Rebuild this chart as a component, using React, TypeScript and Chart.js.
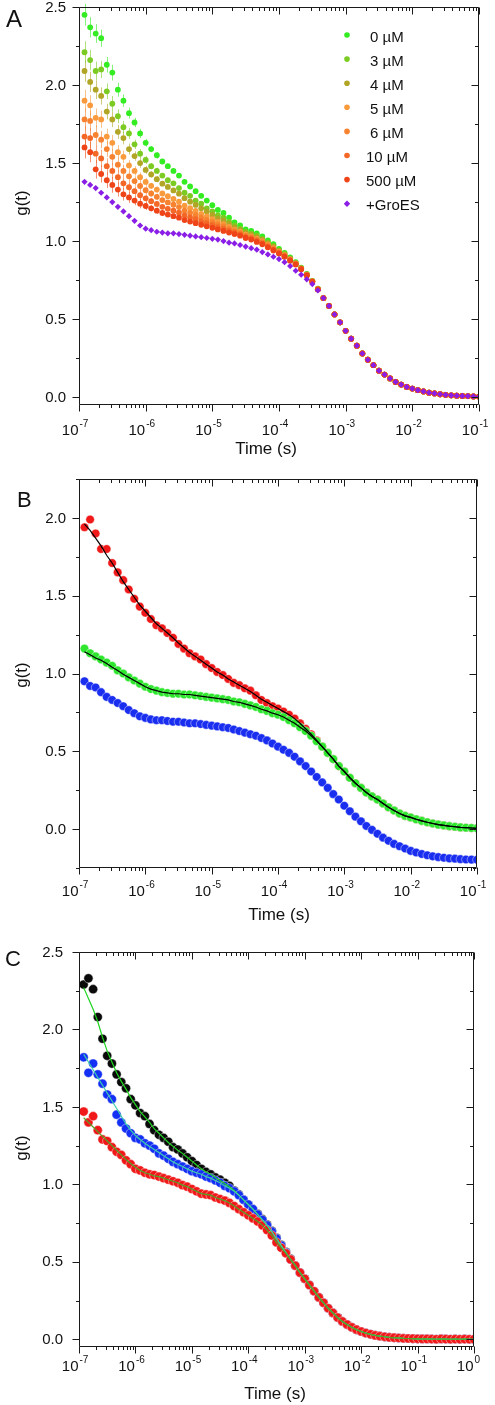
import React, { useEffect, useRef } from 'react';
import { Chart, registerables } from 'chart.js';

Chart.register(...registerables);

const FONT = '"Liberation Sans", Arial, Helvetica, sans-serif';

// ---------- lag-time grid (s) ----------
const TIMES = [
  1.21e-7, 1.47e-7, 1.78e-7, 2.15e-7, 2.61e-7, 3.16e-7, 3.83e-7, 4.64e-7, 5.62e-7, 6.81e-7, 8.25e-7,
  1e-6, 1.21e-6, 1.47e-6, 1.78e-6, 2.15e-6, 2.61e-6, 3.16e-6, 3.83e-6, 4.64e-6, 5.62e-6, 6.81e-6, 8.25e-6,
  1e-5, 1.21e-5, 1.47e-5, 1.78e-5, 2.15e-5, 2.61e-5, 3.16e-5, 3.83e-5, 4.64e-5, 5.62e-5, 6.81e-5, 8.25e-5,
  1e-4, 1.21e-4, 1.47e-4, 1.78e-4, 2.15e-4, 2.61e-4, 3.16e-4, 3.83e-4, 4.64e-4, 5.62e-4, 6.81e-4, 8.25e-4,
  1e-3, 1.21e-3, 1.47e-3, 1.78e-3, 2.15e-3, 2.61e-3, 3.16e-3, 3.83e-3, 4.64e-3, 5.62e-3, 6.81e-3, 8.25e-3,
  1e-2, 1.21e-2, 1.47e-2, 1.78e-2, 2.15e-2, 2.61e-2, 3.16e-2, 3.83e-2, 4.64e-2, 5.62e-2, 6.81e-2, 8.25e-2,
  1e-1,
];
const TIMES_C = TIMES.concat([1.21e-1, 1.47e-1, 1.78e-1, 2.15e-1, 2.61e-1, 3.16e-1, 3.83e-1, 4.64e-1, 5.62e-1, 6.81e-1, 8.25e-1, 1]);

// ---------- Panel A ----------
const A_TAIL = [0.635, 0.585, 0.53, 0.48, 0.425, 0.375, 0.33, 0.28, 0.24, 0.205, 0.17, 0.145, 0.12, 0.098, 0.081, 0.066, 0.055, 0.045, 0.037, 0.029, 0.024, 0.019, 0.015, 0.012, 0.01, 0.008, 0.007, 0.005, 0.004];
const A_0UM = [2.45, 2.37, 2.33, 2.30, 2.13, 2.08, 1.97, 1.90, 1.82, 1.76, 1.69, 1.63, 1.59, 1.55, 1.51, 1.48, 1.45, 1.42, 1.38, 1.35, 1.32, 1.29, 1.26, 1.23, 1.20, 1.18, 1.15, 1.12, 1.10, 1.075, 1.065, 1.05, 1.03, 1.005, 0.98, 0.95, 0.925, 0.895, 0.865, 0.83, 0.79, 0.745, 0.695].concat(A_TAIL);
const A_3UM = [2.21, 2.16, 2.09, 2.10, 1.96, 1.88, 1.80, 1.73, 1.69, 1.62, 1.56, 1.52, 1.48, 1.45, 1.42, 1.39, 1.37, 1.34, 1.31, 1.29, 1.26, 1.24, 1.21, 1.19, 1.165, 1.15, 1.125, 1.10, 1.08, 1.06, 1.05, 1.035, 1.015, 0.99, 0.97, 0.94, 0.92, 0.89, 0.86, 0.827, 0.787, 0.743, 0.694].concat(A_TAIL);
const A_4UM = [2.09, 2.02, 1.97, 1.93, 1.83, 1.78, 1.70, 1.66, 1.59, 1.545, 1.50, 1.456, 1.427, 1.397, 1.368, 1.347, 1.325, 1.304, 1.275, 1.253, 1.232, 1.21, 1.189, 1.168, 1.146, 1.131, 1.109, 1.088, 1.072, 1.051, 1.041, 1.026, 1.009, 0.986, 0.963, 0.937, 0.914, 0.886, 0.859, 0.826, 0.786, 0.743, 0.693].concat(A_TAIL);
const A_5UM = [1.90, 1.87, 1.79, 1.78, 1.67, 1.63, 1.57, 1.54, 1.485, 1.45, 1.41, 1.379, 1.354, 1.33, 1.305, 1.288, 1.27, 1.253, 1.228, 1.211, 1.193, 1.175, 1.158, 1.14, 1.123, 1.109, 1.091, 1.074, 1.06, 1.041, 1.031, 1.016, 0.999, 0.977, 0.955, 0.931, 0.91, 0.883, 0.856, 0.824, 0.784, 0.742, 0.692].concat(A_TAIL);
const A_6UM = [1.78, 1.77, 1.68, 1.65, 1.59, 1.54, 1.49, 1.45, 1.415, 1.385, 1.353, 1.326, 1.305, 1.284, 1.263, 1.248, 1.233, 1.218, 1.196, 1.181, 1.166, 1.151, 1.136, 1.121, 1.106, 1.094, 1.079, 1.064, 1.051, 1.034, 1.024, 1.009, 0.993, 0.971, 0.95, 0.928, 0.906, 0.88, 0.854, 0.823, 0.783, 0.741, 0.691].concat(A_TAIL);
const A_10UM = [1.67, 1.66, 1.56, 1.53, 1.48, 1.45, 1.41, 1.37, 1.345, 1.32, 1.294, 1.274, 1.256, 1.238, 1.22, 1.207, 1.195, 1.182, 1.164, 1.152, 1.14, 1.127, 1.115, 1.102, 1.09, 1.079, 1.066, 1.054, 1.043, 1.027, 1.017, 1.002, 0.986, 0.965, 0.945, 0.924, 0.903, 0.877, 0.852, 0.821, 0.781, 0.741, 0.691].concat(A_TAIL);
const A_500UM = [1.60, 1.57, 1.46, 1.43, 1.39, 1.36, 1.33, 1.30, 1.28, 1.26, 1.24, 1.225, 1.21, 1.195, 1.18, 1.17, 1.16, 1.15, 1.135, 1.125, 1.115, 1.105, 1.095, 1.085, 1.075, 1.065, 1.055, 1.045, 1.035, 1.02, 1.01, 0.995, 0.98, 0.96, 0.94, 0.92, 0.90, 0.875, 0.85, 0.82, 0.78, 0.74, 0.69].concat(A_TAIL);
const A_GROES = [1.38, 1.36, 1.34, 1.31, 1.28, 1.25, 1.22, 1.19, 1.16, 1.13, 1.10, 1.08, 1.07, 1.06, 1.055, 1.05, 1.05, 1.045, 1.04, 1.035, 1.03, 1.025, 1.02, 1.015, 1.01, 1.0, 0.99, 0.985, 0.975, 0.965, 0.955, 0.945, 0.93, 0.915, 0.90, 0.885, 0.865, 0.84, 0.81, 0.785, 0.755, 0.725, 0.685].concat(A_TAIL);
const ERR_A = [0.07, 0.065, 0.06, 0.055, 0.05, 0.05, 0.045, 0.04, 0.035, 0.03, 0.03, 0.025, 0.02, 0.02, 0.015];

const A_LABELS = ['0 µM', '3 µM', '4 µM', '5 µM', '6 µM', '10 µM', '500 µM', '+GroES'];
const A_SERIES = [A_0UM, A_3UM, A_4UM, A_5UM, A_6UM, A_10UM, A_500UM, A_GROES];
const A_COLORS = ['#33ec22', '#7ccb22', '#b0a524', '#f99a3c', '#f7822f', '#f46827', '#ee4418', '#8a1ee6'];

// ---------- Panel B ----------
const B_GREEN = [
  1.16, 1.13, 1.11, 1.09, 1.07, 1.05, 1.02, 1.00, 0.975, 0.955, 0.935, 0.915,
  0.90, 0.89, 0.88, 0.875, 0.87, 0.87, 0.865, 0.865, 0.86, 0.855, 0.85, 0.845,
  0.84, 0.835, 0.83, 0.82, 0.815, 0.805, 0.795, 0.785, 0.77, 0.76, 0.745, 0.735,
  0.72, 0.70, 0.68, 0.655, 0.63, 0.60, 0.565, 0.53, 0.49, 0.45, 0.405, 0.37,
  0.33, 0.295, 0.265, 0.235, 0.21, 0.19, 0.165, 0.14, 0.12, 0.10, 0.085, 0.075,
  0.063, 0.053, 0.044, 0.036, 0.029, 0.024, 0.019, 0.015, 0.011, 0.009, 0.007, 0.005,
];
const B_RED = [
  1.94, 1.99, 1.90, 1.80, 1.80, 1.71, 1.65, 1.60, 1.54, 1.48, 1.43, 1.39,
  1.35, 1.31, 1.29, 1.26, 1.23, 1.19, 1.16, 1.13, 1.11, 1.09, 1.06, 1.035,
  1.01, 0.99, 0.965, 0.94, 0.925, 0.905, 0.89, 0.86, 0.83, 0.81, 0.79, 0.775,
  0.755, 0.735, 0.71, 0.68, 0.645, 0.61, 0.57, 0.53, 0.49, 0.45, 0.405, 0.37,
].concat(B_GREEN.slice(48));
const B_BLUE = [
  0.95, 0.92, 0.91, 0.88, 0.85, 0.83, 0.81, 0.79, 0.765, 0.745, 0.725, 0.715,
  0.705, 0.70, 0.70, 0.695, 0.69, 0.69, 0.685, 0.68, 0.68, 0.675, 0.67, 0.665,
  0.66, 0.655, 0.65, 0.64, 0.63, 0.62, 0.61, 0.60, 0.585, 0.57, 0.55, 0.53,
  0.51, 0.49, 0.465, 0.435, 0.405, 0.37, 0.335, 0.30, 0.265, 0.225, 0.19, 0.15,
  0.115, 0.08, 0.05, 0.02, -0.005, -0.03, -0.055, -0.075, -0.095, -0.11, -0.125, -0.14,
  -0.15, -0.16, -0.168, -0.175, -0.18, -0.184, -0.188, -0.19, -0.193, -0.195, -0.196, -0.197,
];
const B_FIT_RED = [
  1.96, 1.92, 1.87, 1.82, 1.76, 1.71, 1.65, 1.59, 1.54, 1.49, 1.44, 1.40,
  1.36, 1.32, 1.29, 1.26, 1.23, 1.195, 1.165, 1.135, 1.11, 1.085, 1.06, 1.035,
  1.01, 0.99, 0.965, 0.945, 0.925, 0.905, 0.885, 0.86, 0.835, 0.815, 0.795, 0.775,
  0.755, 0.735, 0.71, 0.68, 0.645, 0.61, 0.57, 0.53, 0.49, 0.45, 0.405, 0.37,
].concat(B_GREEN.slice(48));
const B_FIT_GREEN = [1.14, 1.12, 1.10, 1.085, 1.065, 1.04, 1.02, 0.995, 0.975, 0.955, 0.935, 0.915].concat(B_GREEN.slice(12));

// ---------- Panel C ----------
const C_RED = [
  1.47, 1.40, 1.44, 1.35, 1.29, 1.28, 1.24, 1.21, 1.19, 1.155, 1.13, 1.10,
  1.09, 1.075, 1.065, 1.06, 1.05, 1.04, 1.03, 1.02, 1.01, 0.995, 0.985, 0.97,
  0.955, 0.94, 0.935, 0.93, 0.915, 0.905, 0.895, 0.88, 0.86, 0.84, 0.82, 0.80,
  0.78, 0.76, 0.735, 0.705, 0.67, 0.625, 0.59, 0.555, 0.515, 0.475, 0.43, 0.39,
  0.35, 0.31, 0.27, 0.235, 0.20, 0.17, 0.14, 0.115, 0.095, 0.077, 0.062, 0.05,
  0.04, 0.032, 0.025, 0.02, 0.016, 0.012, 0.01, 0.008, 0.006, 0.005, 0.004, 0.003,
  0.002, 0.002, 0.001, 0.0, 0.002, 0.001, 0.0, 0.001, 0.0, 0.001, 0.0, 0.0,
];
const C_BLACK = [
  2.29, 2.33, 2.26, 2.08, 1.94, 1.83, 1.78, 1.71, 1.66, 1.62, 1.55, 1.51,
  1.46, 1.44, 1.39, 1.35, 1.32, 1.30, 1.275, 1.24, 1.225, 1.20, 1.175, 1.15,
  1.125, 1.10, 1.08, 1.065, 1.045, 1.03, 1.01, 0.99, 0.96, 0.935, 0.90, 0.87,
  0.84, 0.81, 0.775, 0.74, 0.70, 0.655, 0.61, 0.565, 0.52, 0.475, 0.43, 0.39,
].concat(C_RED.slice(48));
const C_BLUE = [
  1.82, 1.72, 1.78, 1.71, 1.65, 1.58, 1.55, 1.45, 1.40, 1.36, 1.33, 1.30,
  1.29, 1.265, 1.25, 1.23, 1.20, 1.185, 1.165, 1.145, 1.13, 1.115, 1.10, 1.085,
  1.075, 1.065, 1.05, 1.04, 1.025, 1.01, 0.99, 0.975, 0.955, 0.93, 0.90, 0.87,
  0.84, 0.805, 0.77, 0.735, 0.695, 0.65, 0.605, 0.56, 0.515, 0.475, 0.43, 0.39,
].concat(C_RED.slice(48));
const C_FIT_BLACK = [
  2.27, 2.20, 2.13, 2.05, 1.95, 1.86, 1.79, 1.72, 1.665, 1.615, 1.56, 1.515,
  1.47, 1.435, 1.40, 1.36, 1.33, 1.30, 1.27, 1.245, 1.22, 1.20, 1.175, 1.15,
  1.125, 1.10, 1.08, 1.065, 1.045, 1.025, 1.005, 0.985, 0.96, 0.93, 0.90, 0.87,
  0.84, 0.805, 0.77, 0.735, 0.695, 0.65, 0.605, 0.56, 0.515, 0.475, 0.43, 0.39,
].concat(C_RED.slice(48));
const C_FIT_BLUE = [1.84, 1.79, 1.74, 1.69, 1.64, 1.59, 1.54, 1.49, 1.44, 1.39, 1.35, 1.315, 1.29, 1.265, 1.245, 1.225, 1.205, 1.185, 1.165, 1.145, 1.13, 1.115, 1.10, 1.085].concat(C_BLUE.slice(24));
const C_FIT_RED = [1.43, 1.40, 1.37, 1.34, 1.31, 1.28, 1.25, 1.22, 1.19, 1.16, 1.135, 1.11, 1.09, 1.075, 1.065, 1.055, 1.05, 1.04, 1.03, 1.02, 1.01, 0.995, 0.985, 0.97].concat(C_RED.slice(24));

// ---------- axis tick values ----------
const Y_MAJOR_AC = [0, 0.5, 1, 1.5, 2, 2.5];
const Y_MINOR_AC = [0.25, 0.75, 1.25, 1.75, 2.25];
const Y_MAJOR_B = [0, 0.5, 1, 1.5, 2];
const Y_MINOR_B = [-0.25, 0.25, 0.75, 1.25, 1.75, 2.25];

const pts = (xs: number[], ys: number[]) => xs.map((x, i) => ({ x, y: ys[i] }));

interface Deco {
  letter: string; letterX: number; letterY: number; letterSize: number;
  yMajor: number[]; yMinor: number[]; expMin: number; expMax: number;
  tickBase: number; labelRight: number;
  xTitleX: number; xTitleY: number; yTitleX: number; yTitleY: number;
  legend?: boolean;
}

function decoPlugin(d: Deco) {
  return {
    id: 'deco',
    beforeDatasetsDraw(chart: any) {
      const { ctx } = chart;
      const xs = chart.scales.x, ys = chart.scales.y;
      ctx.save();
      ctx.lineWidth = 1;
      chart.data.datasets.forEach((ds: any) => {
        if (!ds.err) return;
        ctx.strokeStyle = ds.backgroundColor;
        ctx.globalAlpha = 0.6;
        ds.err.forEach((e: number, i: number) => {
          const p = ds.data[i];
          if (!p) return;
          const x = Math.round(xs.getPixelForValue(p.x)) + 0.5;
          ctx.beginPath();
          ctx.moveTo(x, ys.getPixelForValue(p.y - e));
          ctx.lineTo(x, ys.getPixelForValue(p.y + e));
          ctx.stroke();
        });
      });
      ctx.restore();
    },
    afterDraw(chart: any) {
      const { ctx, chartArea: a } = chart;
      const xs = chart.scales.x, ys = chart.scales.y;
      const L = Math.round(a.left) + 0.5, R = Math.round(a.right) - 0.5;
      const T = Math.round(a.top) + 0.5, B = Math.round(a.bottom) - 0.5;
      ctx.save();
      ctx.strokeStyle = '#1a1a1a';
      ctx.lineWidth = 1;
      ctx.beginPath();
      ctx.rect(L, T, R - L, B - T);
      for (const v of d.yMajor) {
        const y = Math.round(ys.getPixelForValue(v)) + 0.5;
        ctx.moveTo(L - 7, y); ctx.lineTo(L, y);
        ctx.moveTo(R, y); ctx.lineTo(R - 7, y);
      }
      for (const v of d.yMinor) {
        const y = Math.round(ys.getPixelForValue(v)) + 0.5;
        ctx.moveTo(L - 3.5, y); ctx.lineTo(L, y);
        ctx.moveTo(R, y); ctx.lineTo(R - 3.5, y);
      }
      for (let e = d.expMin; e <= d.expMax; e++) {
        for (let k = 1; k <= 9; k++) {
          if (e === d.expMax && k > 1) break;
          const v = k * Math.pow(10, e);
          const x = Math.round(xs.getPixelForValue(v)) + 0.5;
          const len = k === 1 ? 7 : 3.5;
          ctx.moveTo(x, B); ctx.lineTo(x, B + len);
          ctx.moveTo(x, T); ctx.lineTo(x, T + len);
        }
      }
      ctx.stroke();

      ctx.fillStyle = '#111';
      ctx.font = `15px ${FONT}`;
      ctx.textAlign = 'right';
      ctx.textBaseline = 'middle';
      for (const v of d.yMajor) {
        ctx.fillText(v.toFixed(1), d.labelRight, ys.getPixelForValue(v) + 0.5);
      }
      ctx.textBaseline = 'alphabetic';
      for (let e = d.expMin; e <= d.expMax; e++) {
        const x = xs.getPixelForValue(Math.pow(10, e));
        ctx.font = `15px ${FONT}`;
        ctx.textAlign = 'right';
        ctx.fillText('10', x - 0.5, d.tickBase);
        ctx.font = `10px ${FONT}`;
        ctx.textAlign = 'left';
        ctx.fillText(String(e), x + 0.5, d.tickBase - 8);
      }
      ctx.font = `17px ${FONT}`;
      ctx.textAlign = 'center';
      ctx.fillText('Time (s)', d.xTitleX, d.xTitleY);
      ctx.save();
      ctx.translate(d.yTitleX, d.yTitleY);
      ctx.rotate(-Math.PI / 2);
      ctx.textBaseline = 'middle';
      ctx.fillText('g(t)', 0, 0);
      ctx.restore();
      ctx.font = `${d.letterSize}px ${FONT}`;
      ctx.textAlign = 'left';
      ctx.fillText(d.letter, d.letterX, d.letterY);

      if (d.legend) {
        A_LABELS.forEach((lab, i) => {
          const y = 35 + i * 24.1;
          ctx.fillStyle = A_COLORS[i];
          ctx.beginPath();
          if (i === 7) {
            ctx.moveTo(347, y - 3.2); ctx.lineTo(350.2, y); ctx.lineTo(347, y + 3.2); ctx.lineTo(343.8, y); ctx.closePath();
          } else {
            ctx.arc(347, y, 2.8, 0, Math.PI * 2);
          }
          ctx.fill();
          ctx.fillStyle = '#111';
          ctx.font = `15px ${FONT}`;
          ctx.textAlign = 'left';
          ctx.fillText(lab, lab.length <= 4 ? 370 : 366, y + 6.5);
        });
      }
      ctx.restore();
    },
  };
}

function baseOptions(pad: any, xMax: number, yMin: number, yMax: number) {
  return {
    responsive: false,
    animation: false,
    events: [],
    layout: { padding: pad },
    plugins: { legend: { display: false }, tooltip: { enabled: false }, title: { display: false } },
    scales: {
      x: { type: 'logarithmic', min: 1e-7, max: xMax, display: false },
      y: { type: 'linear', min: yMin, max: yMax, display: false },
    },
  };
}

const RIM = 'rgba(255,255,255,0.55)';

function buildA() {
  const datasets = A_SERIES.map((vals, i) => ({
    label: A_LABELS[i],
    data: pts(TIMES, vals),
    backgroundColor: A_COLORS[i],
    borderColor: A_COLORS[i],
    borderWidth: 0,
    pointRadius: i === 7 ? 3.1 : 2.9,
    pointStyle: i === 7 ? 'rectRot' : 'circle',
    err: i < 7 ? ERR_A : undefined,
  })).reverse();
  return {
    type: 'scatter',
    data: { datasets },
    options: baseOptions({ left: 79, right: 16, top: 7, bottom: 60 }, 1e-1, -0.05, 2.5),
    plugins: [decoPlugin({
      letter: 'A', letterX: 6, letterY: 27, letterSize: 24,
      yMajor: Y_MAJOR_AC, yMinor: Y_MINOR_AC, expMin: -7, expMax: -1,
      tickBase: 435, labelRight: 66, xTitleX: 266, xTitleY: 454, yTitleX: 22, yTitleY: 203, legend: true,
    })],
  };
}

function scatterSet(label: string, t: number[], v: number[], color: string, r: number) {
  return { label, data: pts(t, v), backgroundColor: color, borderColor: RIM, borderWidth: 0.8, pointRadius: r };
}
function fitSet(label: string, t: number[], v: number[], color: string) {
  return { label, data: pts(t, v), showLine: true, borderColor: color, borderWidth: 1.2, pointRadius: 0, fill: false };
}

function buildB() {
  const datasets = [
    fitSet('fit red', TIMES, B_FIT_RED, '#000'),
    fitSet('fit green', TIMES, B_FIT_GREEN, '#000'),
    scatterSet('green', TIMES, B_GREEN, '#2ee62e', 4.3),
    scatterSet('red', TIMES, B_RED, '#f01818', 4.3),
    scatterSet('blue', TIMES, B_BLUE, '#1a2ef0', 4.3),
  ];
  return {
    type: 'scatter',
    data: { datasets },
    options: baseOptions({ left: 79, right: 18, top: 14, bottom: 62 }, 1e-1, -0.25, 2.25),
    plugins: [decoPlugin({
      letter: 'B', letterX: 17, letterY: 42, letterSize: 22,
      yMajor: Y_MAJOR_B, yMinor: Y_MINOR_B, expMin: -7, expMax: -1,
      tickBase: 431, labelRight: 66, xTitleX: 279, xTitleY: 455, yTitleX: 22, yTitleY: 210,
    })],
  };
}

function buildC() {
  const datasets = [
    fitSet('fit red', TIMES_C, C_FIT_RED, '#4fa526'),
    fitSet('fit blue', TIMES_C, C_FIT_BLUE, '#3cd0a8'),
    fitSet('fit black', TIMES_C, C_FIT_BLACK, '#1fd51f'),
    scatterSet('red', TIMES_C, C_RED, '#f01818', 4.6),
    scatterSet('blue', TIMES_C, C_BLUE, '#1530f5', 4.6),
    scatterSet('black', TIMES_C, C_BLACK, '#0a0a0a', 4.6),
  ];
  return {
    type: 'scatter',
    data: { datasets },
    options: baseOptions({ left: 79, right: 21, top: 22, bottom: 58 }, 1, -0.05, 2.5),
    plugins: [decoPlugin({
      letter: 'C', letterX: 5, letterY: 36, letterSize: 22,
      yMajor: Y_MAJOR_AC, yMinor: Y_MINOR_AC, expMin: -7, expMax: 0,
      tickBase: 441, labelRight: 63, xTitleX: 275, xTitleY: 469, yTitleX: 22, yTitleY: 218,
    })],
  };
}

function Panel({ top, height, build }: { top: number; height: number; build: () => any }) {
  const ref = useRef<HTMLCanvasElement>(null);
  useEffect(() => {
    const chart = new Chart(ref.current as HTMLCanvasElement, build());
    return () => chart.destroy();
  }, []);
  return (
    <canvas
      ref={ref}
      width={495}
      height={height}
      style={{ position: 'absolute', left: 0, top, width: 495, height, display: 'block' }}
    />
  );
}

export default function App() {
  return (
    <div style={{ position: 'absolute', left: 0, top: 0, width: 495, height: 1405, background: '#fff', overflow: 'hidden' }}>
      <Panel top={0} height={465} build={buildA} />
      <Panel top={465} height={465} build={buildB} />
      <Panel top={930} height={475} build={buildC} />
    </div>
  );
}
